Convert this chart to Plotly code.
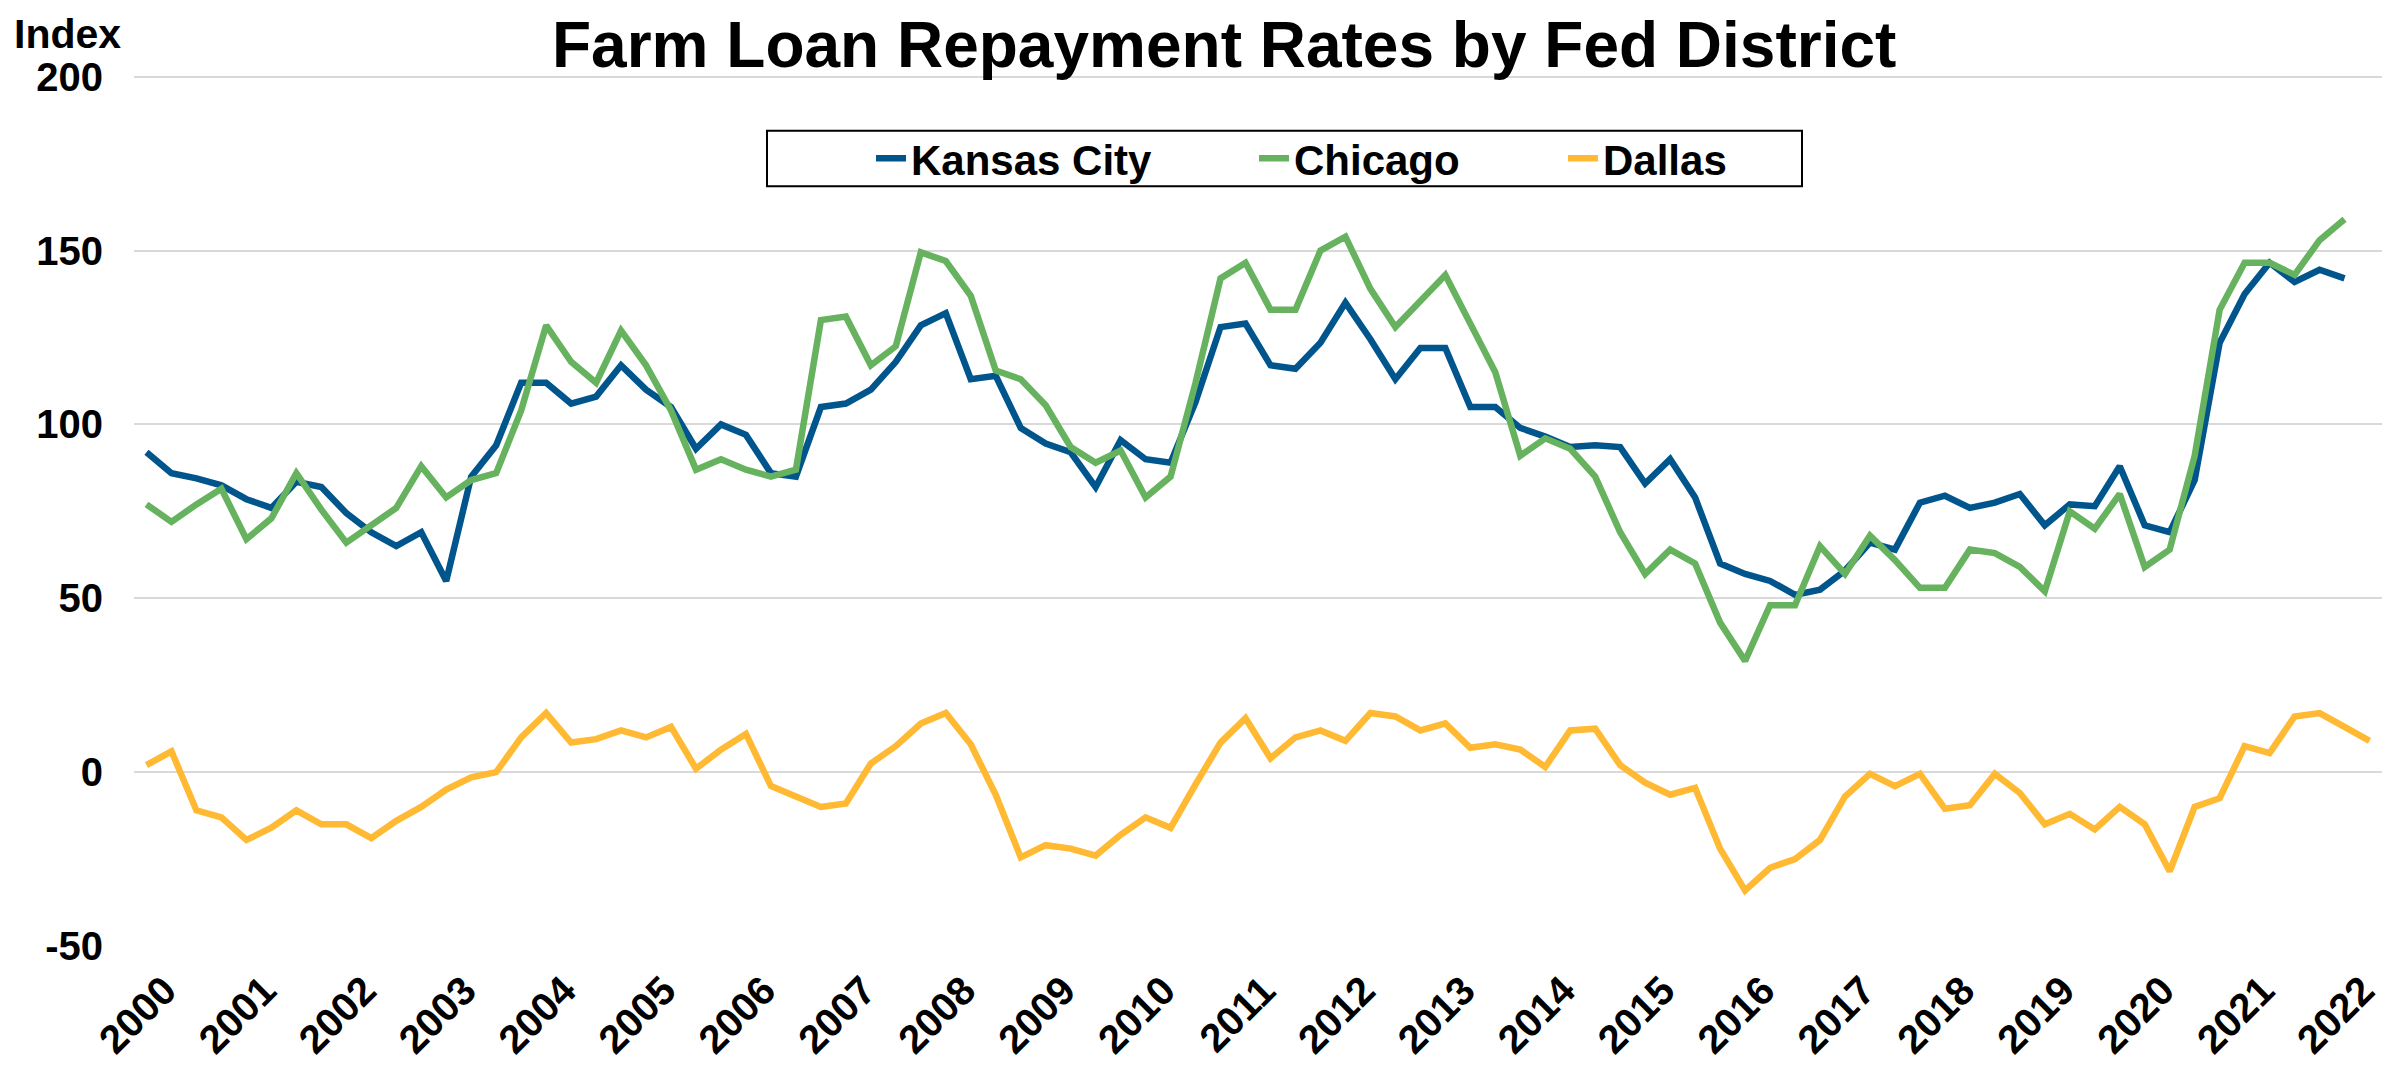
import plotly.graph_objects as go

# ---------------- data ----------------
years = list(range(2000, 2023))
quarters = [f"{y} Q{q}" for y in years for q in (1, 2, 3, 4)][:90]
year_labels = [str(y) for y in years]
year_ticks = [f"{y} Q1" for y in years]

kansas_city = [
    92, 86, 84.5, 82.5, 78.5, 76, 83.5, 82, 74.5, 69, 65, 69,
    55, 85, 94, 112, 112, 106, 108, 117, 110, 105, 93, 100,
    97, 86, 85, 105, 106, 110, 118, 128.5, 132, 113, 114, 99,
    94.5, 92, 82, 95.5, 90, 89, 106.5, 128, 129, 117, 116, 123.5,
    135, 124.5, 113, 122, 122, 105, 105, 99, 96.5, 93.5, 94, 93.5,
    83, 90, 79, 60, 57, 55, 51, 52.5, 58, 66, 64, 77.5,
    79.5, 76, 77.5, 80, 71, 77, 76.5, 88, 71, 69, 84, 123.5,
    137.5, 146.5, 141, 144.5, 142,
]

chicago = [
    77, 72, 77, 81.5, 67, 73, 86, 75.5, 66, 71, 76, 88,
    79, 84, 86, 104, 128.5, 118, 112, 127, 117, 104, 87, 90,
    87, 85, 87, 130, 131, 117, 122.5, 149.5, 147, 137, 115.5, 113,
    105.5, 93.5, 89, 92.5, 79, 85, 112, 142, 146.5, 133, 133, 150,
    154, 139, 128, 135.5, 143, 129, 115, 91, 96, 93, 85, 69,
    57, 64, 60, 43, 32, 48, 48, 65, 57, 68, 61, 53,
    53, 64, 63, 59, 52, 75, 70, 80, 59, 64, 91, 133,
    146.5, 146.5, 143, 153, 159,
]

dallas = [
    2, 6, -11, -13, -19.5, -16, -11, -15, -15, -19, -14, -10,
    -5, -1.5, 0, 10, 17, 8.5, 9.5, 12, 10, 13, 1, 6.5,
    11, -4, -7, -10, -9, 2.5, 7.5, 14, 17, 8, -6.5, -24.5,
    -21, -22, -24, -18, -13, -16, -3.5, 8.5, 15.5, 4, 10, 12,
    9, 17, 16, 12, 14, 7, 8, 6.5, 1.5, 12, 12.5, 2,
    -3, -6.5, -4.5, -22, -34, -27.5, -25, -19.5, -7, -0.5, -4, -0.5,
    -10.5, -9.5, -0.5, -6, -15, -12, -16.5, -10, -15, -28.5, -10, -7.5,
    7.5, 5.5, 16, 17, 13, 9,
]

series_names = ["Kansas City", "Chicago", "Dallas"]
series_values = [kansas_city, chicago, dallas]
series_colors = ["#00558C", "#66B25E", "#FFB933"]
legend_widths = [338, 264, 130]

y_ticks = [-50, 0, 50, 100, 150, 200]
y_tick_labels = ["-50", "0", "50", "100", "150", "200"]

# ---------------- geometry (page pixels; page has an 8px body margin) ----------------
OFF = 8
W, H = 2397 - OFF, 1074 - OFF
PLOT_L, PLOT_R, PLOT_T, PLOT_B = 134, 2382, 75, 951
L, T = PLOT_L - OFF, PLOT_T - OFF
R, B = 2397 - PLOT_R, 1074 - PLOT_B
PW, PH = PLOT_R - PLOT_L, PLOT_B - PLOT_T

def px_x(px):
    return (px - PLOT_L) / PW

def px_y(py):
    return (PLOT_B - py) / PH

FONT = "Liberation Sans, Arial, sans-serif"

fig = go.Figure()
for name, vals, col, lw in zip(series_names, series_values, series_colors, legend_widths):
    fig.add_trace(go.Scatter(
        x=quarters[:len(vals)], y=vals, name=name, mode="lines",
        line=dict(color=col, width=6.5), legendwidth=lw,
    ))

fig.update_layout(
    width=W, height=H,
    margin=dict(l=L, r=R, t=T, b=B),
    paper_bgcolor="white", plot_bgcolor="white",
    font=dict(family=FONT, color="black", size=40, weight="bold"),
    showlegend=True,
    legend=dict(
        orientation="h", x=px_x(871), xanchor="left",
        y=px_y(159), yanchor="middle",
        font=dict(family=FONT, size=42, color="black", weight="bold"),
        bgcolor="rgba(0,0,0,0)", borderwidth=0,
        itemwidth=30, tracegroupgap=0,
    ),
    xaxis=dict(
        type="category", categoryorder="array", categoryarray=quarters,
        range=[-0.5, len(quarters) - 0.5],
        tickmode="array", tickvals=year_ticks, ticktext=year_labels,
        tickangle=-45, showgrid=False, showline=False, zeroline=False,
        ticks="", ticklabelshift=18, ticklabelstandoff=12,
        tickfont=dict(family=FONT, size=40, color="black", weight="bold"),
    ),
    yaxis=dict(
        range=[-50, 200.5], tickmode="array", tickvals=y_ticks, ticktext=y_tick_labels,
        showgrid=True, gridcolor="#D9D9D9", gridwidth=2,
        zeroline=False, showline=False, ticks="",
        ticklabelstandoff=30,
        tickfont=dict(family=FONT, size=40, color="black", weight="bold"),
    ),
    annotations=[
        dict(text="Farm Loan Repayment Rates by Fed District", xref="paper", yref="paper",
             x=px_x(1224), y=px_y(45), xanchor="center", yanchor="middle", showarrow=False,
             font=dict(family=FONT, size=64, color="black", weight="bold")),
        dict(text="Index", xref="paper", yref="paper",
             x=px_x(12), y=px_y(9), xanchor="left", yanchor="top", showarrow=False,
             font=dict(family=FONT, size=41, color="black", weight="bold")),
    ],
    shapes=[
        dict(type="rect", xref="paper", yref="paper",
             x0=px_x(767), x1=px_x(1802), y0=px_y(187), y1=px_y(131),
             line=dict(color="black", width=2), fillcolor="rgba(0,0,0,0)", layer="below"),
    ],
)

fig.write_html("out.html")
